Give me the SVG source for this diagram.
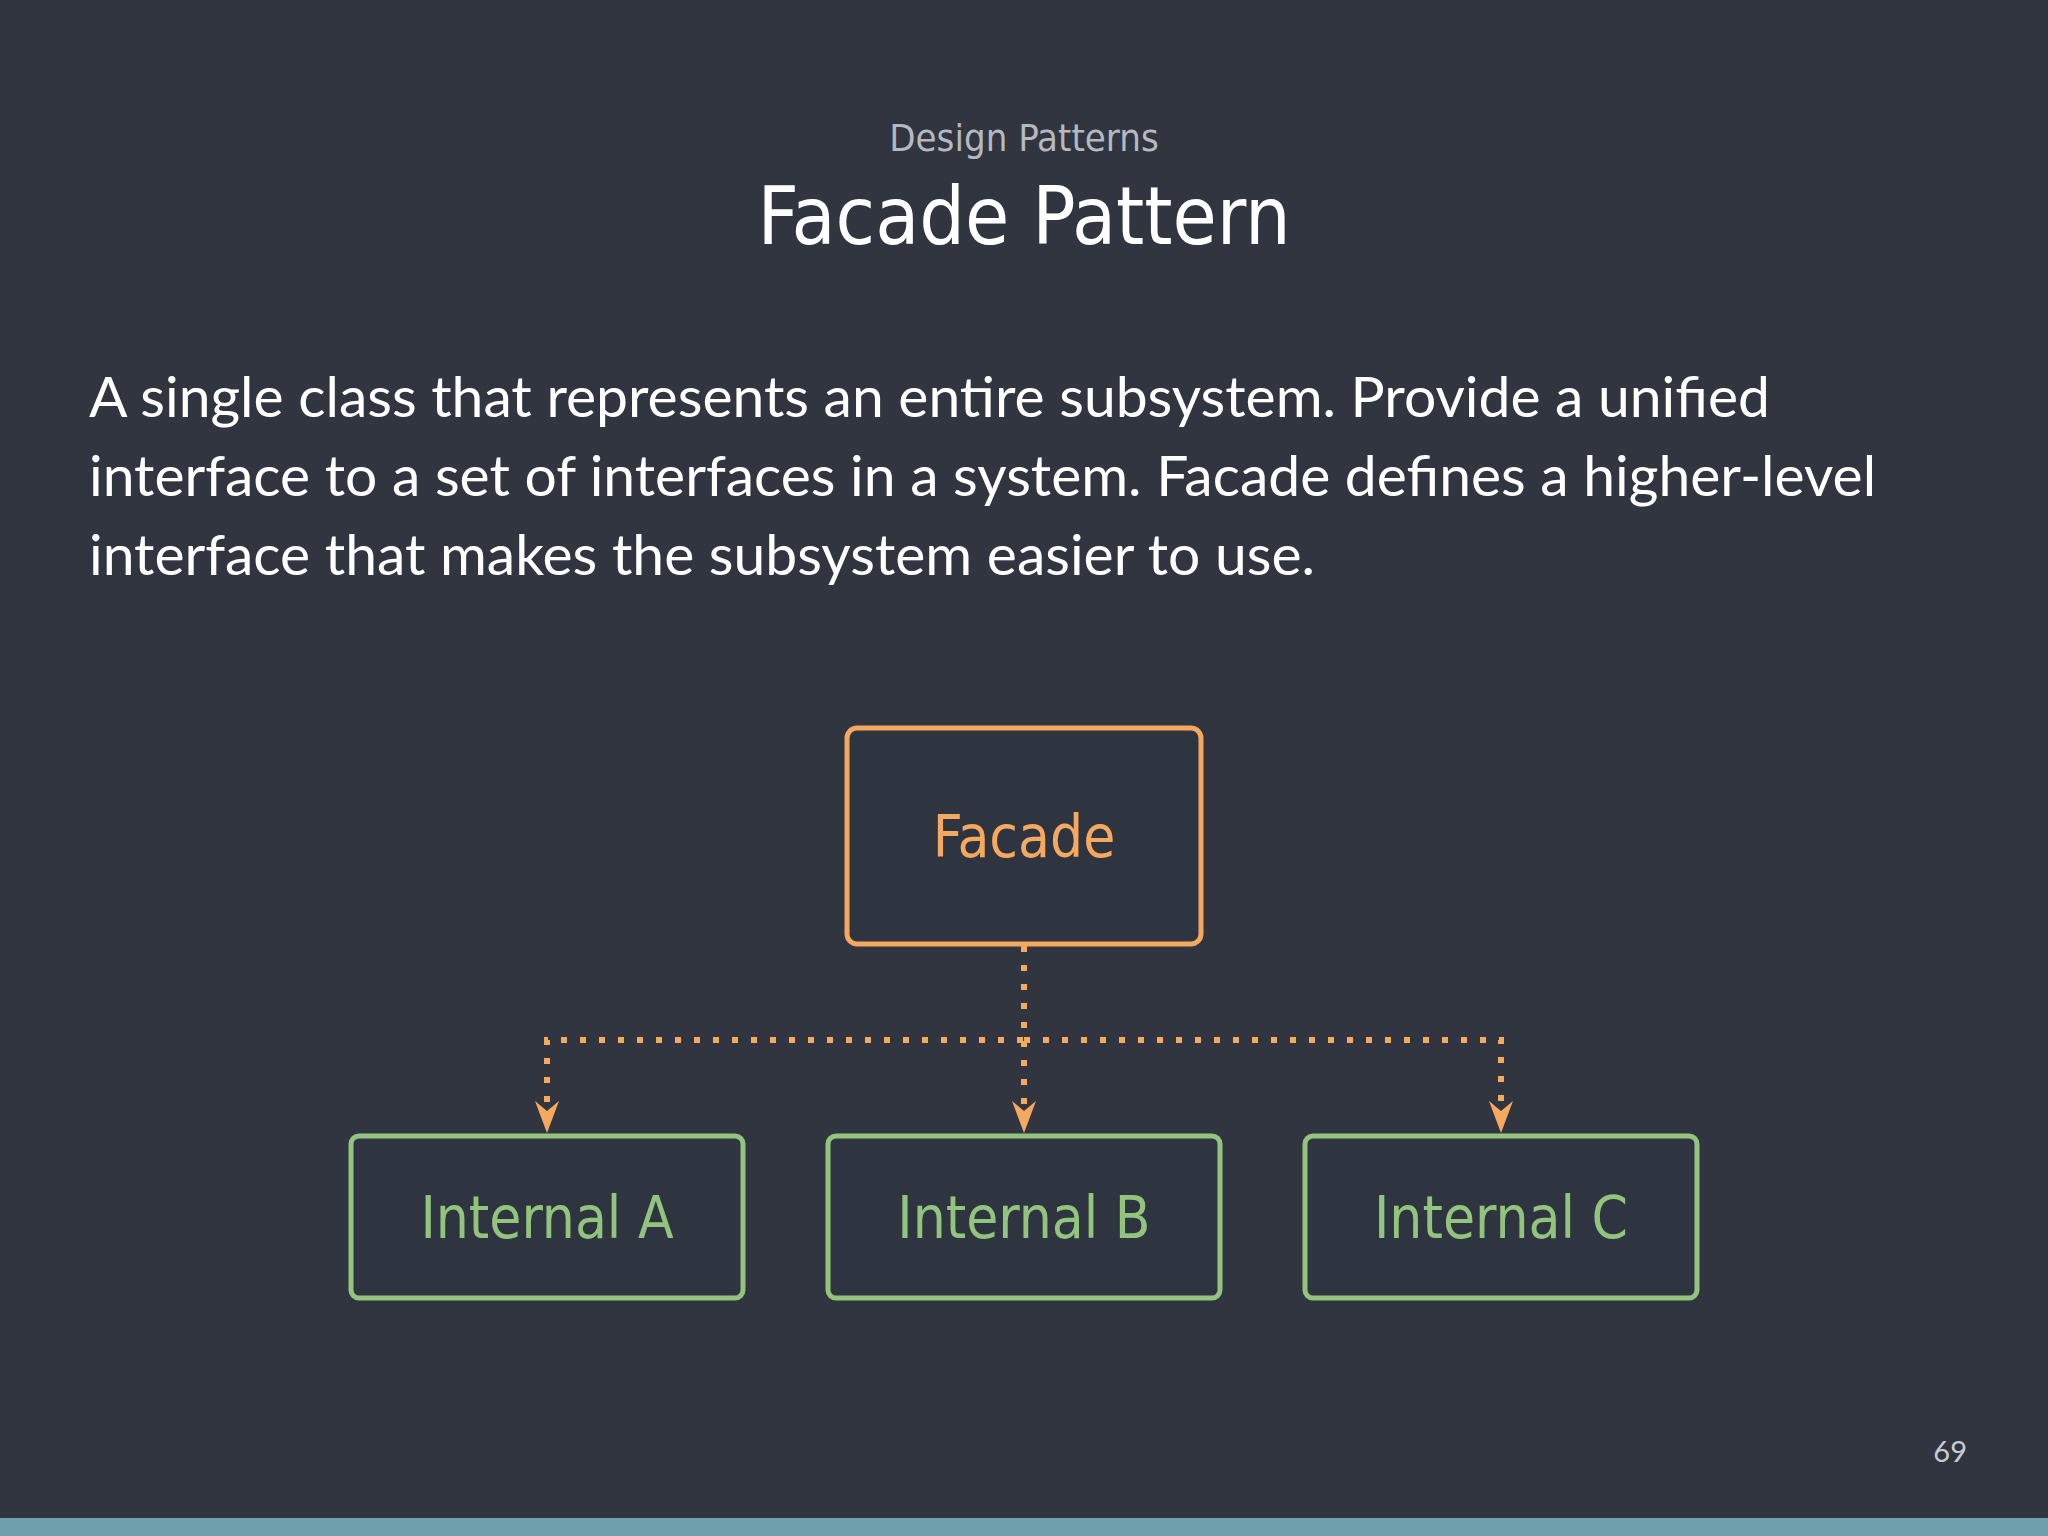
<svg xmlns="http://www.w3.org/2000/svg" width="2048" height="1536" viewBox="0 0 2048 1536">
<style>
.lbl{font-family:"DejaVu Sans Condensed","DejaVu Sans",sans-serif;font-size:58px;text-anchor:middle}
.body{font-family:Lato,"Open Sans",sans-serif;font-size:57px;fill:#ffffff}
.conn{stroke:#f5a95f;stroke-width:6;fill:none;stroke-dasharray:6 13}
</style>
<defs>
<marker id="arr" viewBox="0 0 32 24" refX="32" refY="12" markerWidth="32" markerHeight="24" markerUnits="userSpaceOnUse" orient="auto">
<path d="M0 0 L32 12 L0 24 L10 12 Z" fill="#f5a95f"/>
</marker>
</defs>
<rect width="2048" height="1536" fill="#303540"/>
<rect y="1518" width="2048" height="18" fill="#6f9fac"/>
<text x="1024" y="151" text-anchor="middle" font-family="'DejaVu Sans Condensed','DejaVu Sans',sans-serif" font-size="38" fill="#b4b8bf">Design Patterns</text>
<text x="1024" y="244" text-anchor="middle" font-family="'DejaVu Sans Condensed','DejaVu Sans',sans-serif" font-size="80" fill="#ffffff">Facade Pattern</text>
<text class="body" x="89" y="417">A single class that represents an entire subsystem. Provide a unified</text>
<text class="body" x="89" y="496">interface to a set of interfaces in a system. Facade defines a higher-level</text>
<text class="body" x="89" y="575">interface that makes the subsystem easier to use.</text>
<text x="1967" y="1462" text-anchor="end" font-family="Lato,sans-serif" font-size="29" fill="#c8ccd2">69</text>
<g id="connectors">
<path class="conn" d="M1024 946 V1040 H547 V1133" marker-end="url(#arr)"/>
<path class="conn" d="M1024 946 V1133" marker-end="url(#arr)"/>
<path class="conn" d="M1024 1040 H1501 V1133" marker-end="url(#arr)"/>
</g>
<g id="facade">
<rect x="847" y="728" width="354" height="216" rx="10" fill="#2f3540" stroke="#f5a95f" stroke-width="5"/>
<text class="lbl" x="1024" y="857" fill="#f5a95f">Facade</text>
</g>
<g id="internalA">
<rect x="351" y="1136" width="392" height="162" rx="8" fill="#2f3540" stroke="#93c47d" stroke-width="5"/>
<text class="lbl" x="547" y="1238" fill="#93c47d">Internal A</text>
</g>
<g id="internalB">
<rect x="828" y="1136" width="392" height="162" rx="8" fill="#2f3540" stroke="#93c47d" stroke-width="5"/>
<text class="lbl" x="1024" y="1238" fill="#93c47d">Internal B</text>
</g>
<g id="internalC">
<rect x="1305" y="1136" width="392" height="162" rx="8" fill="#2f3540" stroke="#93c47d" stroke-width="5"/>
<text class="lbl" x="1501" y="1238" fill="#93c47d">Internal C</text>
</g>
</svg>
